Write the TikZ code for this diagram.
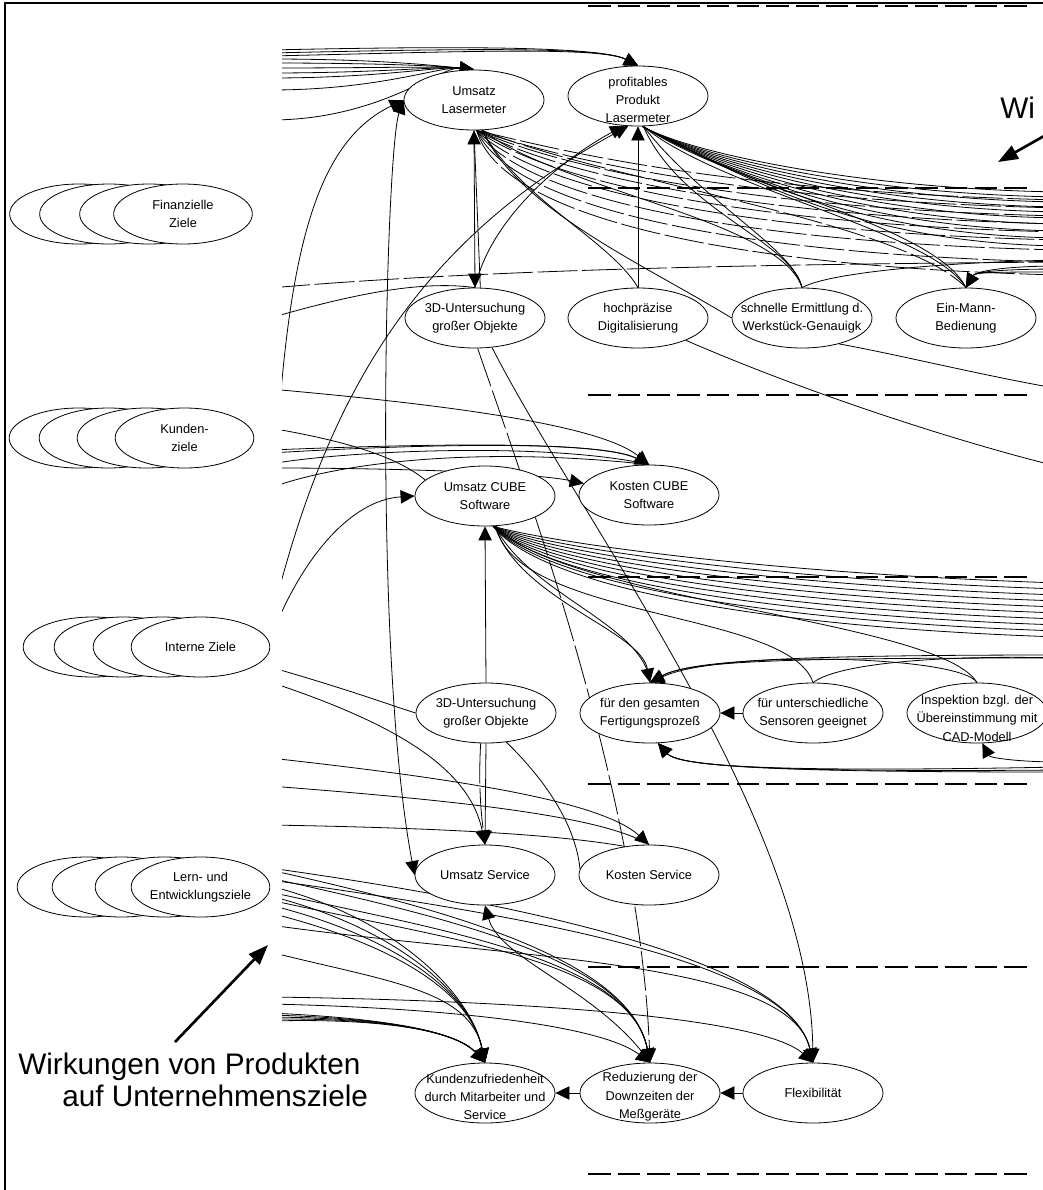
\documentclass[tikz,border=0pt]{standalone}
\usepackage{fontspec}
\setmainfont{Liberation Sans}
\usetikzlibrary{shapes.geometric,arrows.meta}
\pgfdeclarelayer{bg}
\pgfsetlayers{bg,main}
\begin{document}
\begin{tikzpicture}[x=0.75pt,y=-0.75pt,
  goal/.style={ellipse,draw,fill=white,line width=0.6pt,minimum width=105pt,minimum height=45pt,inner sep=0pt},
  txt/.style={align=center,inner sep=0pt,font=\fontsize{9.6pt}{13.8pt}\selectfont},
  lay/.style={ellipse,draw,fill=white,line width=0.6pt,minimum width=104pt,minimum height=45pt,inner sep=0pt},
  cn/.style={line width=0.6pt},
  arr/.style={-{Triangle[length=10.5pt,width=10pt]}},
  arrb/.style={{Triangle[length=10.5pt,width=10pt]}-{Triangle[length=10.5pt,width=10pt]}},
  brk/.style={dash pattern=on 30pt off 3.5pt},
  divider/.style={line width=2.2pt,dash pattern=on 16.9pt off 5.4pt},
  bigtext/.style={font=\fontsize{22.3pt}{26pt}\selectfont,inner sep=0pt},
  pointer/.style={line width=2pt,-{Triangle[length=15pt,width=11pt]}}
]
\useasboundingbox (0,0) rectangle (1043,1190);
\clip (0,0) rectangle (1043,1190);

% frame
\draw[line width=1.6pt] (5,1190) -- (5,3) -- (1043,3);
\draw[divider] (588,6) -- (1027,6);

% level separators
\foreach \y in {188,395,577,784,967,1174}
  \draw[divider] (588,\y) -- (1027,\y);

% perspective stacks on the left
\foreach \x [count=\i] in {79,109,149,183}
  \node[lay] (fin\i) at (\x,214) {};
\node[txt] (finT) at (fin4) {Finanzielle\\Ziele};
\foreach \x [count=\i] in {78.5,108.5,146.5,184.5}
  \node[lay] (kun\i) at (\x,438) {};
\node[txt] (kunT) at (kun4) {Kunden-\\ziele};
\foreach \x [count=\i] in {92.5,123.5,162.5,200.5}
  \node[lay] (int\i) at (\x,647) {};
\node[txt] (intT) at (int4) {Interne Ziele};
\foreach \x [count=\i] in {86.5,121.5,164.5,200.5}
  \node[lay] (ler\i) at (\x,887) {};
\node[txt] (lerT) at (ler4) {Lern- und\\Entwicklungsziele};

% goals
\node[goal,label={[txt]center:{Umsatz\\Lasermeter}}] (UL) at (474,100) {};
\node[goal,label={[txt,yshift=-3pt]center:{profitables\\Produkt\\Lasermeter}}] (PP) at (638,96) {};
\node[goal,label={[txt]center:{3D-Untersuchung\\großer Objekte}}] (U3D) at (475,318) {};
\node[goal,label={[txt]center:{hochpräzise\\Digitalisierung}}] (HD) at (638,318) {};
\node[goal,label={[txt]center:{schnelle Ermittlung d.\\Werkstück-Genauigk}}] (SE) at (802,318) {};
\node[goal,label={[txt]center:{Ein-Mann-\\Bedienung}}] (EM) at (966,318) {};
\node[goal,label={[txt]center:{Umsatz CUBE\\Software}}] (UC) at (485,496) {};
\node[goal,label={[txt]center:{Kosten CUBE\\Software}}] (KC) at (649,495) {};
\node[goal,label={[txt]center:{3D-Untersuchung\\großer Objekte}}] (I3D) at (486,713) {};
\node[goal,label={[txt]center:{für den gesamten\\Fertigungsprozeß}}] (FG) at (650,713) {};
\node[goal,label={[txt]center:{für unterschiedliche\\Sensoren geeignet}}] (FS) at (813,713) {};
\node[goal,label={[txt,yshift=-4pt]center:{Inspektion bzgl. der\\Übereinstimmung mit\\CAD-Modell}}] (IC) at (977,713) {};
\node[goal,label={[txt]center:{Umsatz Service}}] (US) at (485,875) {};
\node[goal,label={[txt]center:{Kosten Service}}] (KS) at (649,875) {};
\node[goal,label={[txt,yshift=-3pt]center:{Kundenzufriedenheit\\durch Mitarbeiter und\\Service}}] (KZ) at (485,1093) {};
\node[goal,label={[txt,yshift=-3pt]center:{Reduzierung der\\Downzeiten der\\Meßgeräte}}] (RD) at (650,1093) {};
\node[goal,label={[txt]center:{Flexibilität}}] (FL) at (813,1093) {};

% captions
\node[bigtext,anchor=base west] (cap1) at (18,1074) {Wirkungen von Produkten};
\node[bigtext,anchor=base west] (cap2) at (62,1106) {auf Unternehmensziele};
\node[bigtext,anchor=base west] (cap3) at (1000,118) {Wi};
\coordinate (pa) at (175,1042); \coordinate (pb) at (268,945);
\draw[pointer] (pa) -- (pb);
\coordinate (pc) at (1060,127); \coordinate (pd) at (998,162);
\draw[pointer] (pc) -- (pd);

% horizontal links
\draw[cn,arr] (FS.west) -- (FG.east);
\draw[cn,arr] (FL.west) -- (RD.east);
\draw[cn,arr] (RD.west) -- (KZ.east);

\begin{pgfonlayer}{bg}
\begin{scope}
\clip (282,0) rectangle (1043,1190);

% ---------- financial level ----------
\foreach \y [count=\i] in {50,53,56}{
  \coordinate (tpA\i) at (270,\y);
  \draw[cn,arr] (tpA\i) .. controls (450,\y-4) and (600,46) .. (PP.north);
}
\foreach \y [count=\i] in {59,63,68,73,78,90,120}{
  \coordinate (tpB\i) at (270,\y);
  \draw[cn,arr] (tpB\i) .. controls (380,\y) and (440,66) .. (UL.north);
}
\coordinate (tl1) at (270,660);
\draw[cn,arr] (tl1) .. controls (275,300) and (300,150) .. (UL.west);
\draw[cn,arrb] (UL.west) .. controls (386,150) and (372,650) .. (US.west);
\coordinate (tl2) at (270,625);
\draw[cn,arr] (tl2) .. controls (320,420) and (400,250) .. (PP.252);
\draw[cn,arr] (U3D.north) .. controls (490,220) and (560,160) .. (PP.245);
\draw[cn,arrb] (U3D.north) -- (UL.south);
\draw[cn] (UL.south) -- (U3D.80);
\draw[cn,arr] (HD.north) -- (PP.south);

% fan below Umsatz Lasermeter
\foreach \a/\b/\y [count=\i] in {560/150/200,555/156/208,550/162/216,545/168/224,540/176/232,530/185/240,520/195/250,510/205/262,500/215/275}{
  \coordinate (ulf\i) at (1060,\y);
  \draw[cn,brk] (UL.-85) .. controls (\a,\b) and (720,\y-8) .. (ulf\i);
}
\draw[cn] (UL.-75) .. controls (520,200) and (610,240) .. (HD.north);
\draw[cn] (UL.-75) .. controls (560,190) and (780,220) .. (SE.north);
\draw[cn] (UL.-75) .. controls (520,210) and (640,262) .. (SE.west);
\draw[cn,brk] (UL.-75) .. controls (600,180) and (900,220) .. (EM.north);

% fan below profitables Produkt
\foreach \a/\y [count=\i] in {690/192,695/197,700/202,705/207,710/212,715/218,720/224,730/231,740/238,750/246}{
  \coordinate (ppf\i) at (1060,\y);
  \draw[cn] (PP.-82) .. controls (\a,150+\i*3) and (860,\y-3) .. (ppf\i);
}
\draw[cn] (PP.-80) .. controls (680,210) and (790,240) .. (SE.north);
\draw[cn] (PP.-80) .. controls (700,200) and (795,250) .. (SE.north);
\draw[cn] (PP.-80) .. controls (720,190) and (930,230) .. (EM.north);
\draw[cn] (PP.-80) .. controls (730,185) and (935,225) .. (EM.north);

\coordinate (hdr) at (1060,467);
\draw[cn] (HD.-25) .. controls (800,390) and (950,440) .. (hdr);
\coordinate (ser) at (1060,389);
\draw[cn] (SE.-35) .. controls (900,355) and (980,375) .. (ser);

\coordinate (tlA) at (270,288); \coordinate (trA) at (1060,262);
\draw[cn,brk] (tlA) .. controls (500,268) and (800,264) .. (trA);
\coordinate (tlB) at (270,318);
\draw[cn] (tlB) .. controls (350,295) and (420,280) .. (U3D.north);
\coordinate (trB) at (1060,260);
\draw[cn] (SE.north) .. controls (830,272) and (950,262) .. (trB);
\foreach \y [count=\i] in {266,269,272}{
  \coordinate (emr\i) at (1060,\y);
  \draw[cn,arr] (emr\i) .. controls (1000,\y) and (975,272) .. (EM.north);
}

% ---------- customer level ----------
\coordinate (ml1) at (270,389);
\draw[cn,arr] (ml1) .. controls (450,405) and (600,425) .. (KC.north);
\foreach \y [count=\i] in {450,453}{
  \coordinate (ml2\i) at (270,\y);
  \draw[cn,arr] (ml2\i) .. controls (420,444) and (600,440) .. (KC.north);
}
\coordinate (ml3) at (270,464);
\draw[cn] (ml3) .. controls (350,450) and (550,442) .. (KC.north);
\coordinate (ml4) at (270,488);
\draw[cn] (ml4) .. controls (340,462) and (480,446) .. (KC.north);
\coordinate (ml5) at (270,468);
\draw[cn,arr] (ml5) .. controls (420,468) and (540,474) .. (KC.170);
\coordinate (ml6) at (270,428);
\draw[cn] (ml6) .. controls (340,440) and (395,455) .. (UC.165);
\coordinate (ml7) at (270,640);
\draw[cn,arr] (ml7) .. controls (300,560) and (350,500) .. (UC.west);

\draw[cn,arr] (I3D.north) -- (UC.south);
% fan below Umsatz CUBE Software
\foreach \k in {0,...,9}{
  \coordinate (ucf\k) at (1060,583+\k*6);
  \draw[cn] (UC.-75) .. controls (540,540+\k*5) and (750,573+\k*6) .. (ucf\k);
}
\draw[cn] (UC.-70) .. controls (515,620) and (790,610) .. (FS.north);
\draw[cn,arr] (UC.-72) .. controls (520,600) and (640,630) .. (FG.north);
\draw[cn] (UC.-72) .. controls (530,595) and (645,625) .. (FG.north);
\draw[cn] (UC.-70) .. controls (560,600) and (940,620) .. (IC.north);

\draw[cn,arr] (U3D.-60) .. controls (580,520) and (810,820) .. (FL.north);
\draw[cn,brk,arr] (U3D.-85) .. controls (530,500) and (640,800) .. (RD.north);

% ---------- internal level ----------
\draw[cn,arr] (I3D.south) -- (US.north);
\draw[cn,brk,arr] (I3D.-100) .. controls (478,790) and (482,820) .. (US.north);
\coordinate (il1) at (270,667);
\draw[cn] (il1) .. controls (350,690) and (390,705) .. (I3D.west);
\coordinate (il2) at (270,682);
\draw[cn,arr] (il2) .. controls (400,725) and (470,770) .. (US.north);
\coordinate (il3) at (270,758);
\draw[cn,arr] (il3) .. controls (450,778) and (600,800) .. (KS.north);
\coordinate (il4) at (270,786);
\draw[cn] (il4) .. controls (450,800) and (600,815) .. (KS.north);
\coordinate (il5) at (270,825);
\draw[cn] (il5) .. controls (450,828) and (560,835) .. (KS.130);
\draw[cn] (I3D.-55) .. controls (540,775) and (575,820) .. (KS.175);

\foreach \y [count=\i] in {655,658}{
  \coordinate (fgr\i) at (1060,\y);
  \draw[cn,arr] (fgr\i) .. controls (800,\y) and (690,660) .. (FG.north);
}
\coordinate (fsr) at (1060,658);
\draw[cn] (FS.north) .. controls (840,662) and (950,655) .. (fsr);
\draw[cn,arr] (IC.north) .. controls (960,655) and (720,650) .. (FG.north);
\coordinate (icr) at (1060,762);
\draw[cn,arr] (icr) .. controls (1020,762) and (990,758) .. (IC.-80);
\foreach \y [count=\i] in {767,770,772}{
  \coordinate (fgb\i) at (1060,\y);
  \draw[cn,arr] (fgb\i) .. controls (800,772) and (680,768) .. (FG.-75);
}

% ---------- learning level ----------
\draw[cn,arr] (RD.north) .. controls (600,990) and (500,960) .. (US.south);
\foreach \y [count=\i] in {1013,1015,1017,1019,1021}{
  \coordinate (kzb\i) at (270,\y);
  \draw[cn,arr] (kzb\i) .. controls (380,1018) and (455,1030) .. (KZ.north);
}
\foreach \y [count=\i] in {886,896,905,913,952}{
  \coordinate (kzc\i) at (270,\y);
  \draw[cn,arr] (kzc\i) .. controls (390,\y+30) and (470,990) .. (KZ.north);
}
\foreach \y [count=\i] in {870,878,892,900}{
  \coordinate (rdc\i) at (270,\y);
  \draw[cn,arr] (rdc\i) .. controls (450,\y+40) and (630,960) .. (RD.north);
}
\coordinate (rdl) at (270,1004);
\draw[cn,arr] (rdl) .. controls (450,1008) and (600,1025) .. (RD.north);
\foreach \y [count=\i] in {868,880,925}{
  \coordinate (flc\i) at (270,\y);
  \draw[cn,arr] (flc\i) .. controls (520,\y+35) and (790,960) .. (FL.north);
}
\coordinate (fll) at (270,997);
\draw[cn,arr] (fll) .. controls (500,1000) and (760,1015) .. (FL.north);
\end{scope}
\end{pgfonlayer}
\end{tikzpicture}
\end{document}
